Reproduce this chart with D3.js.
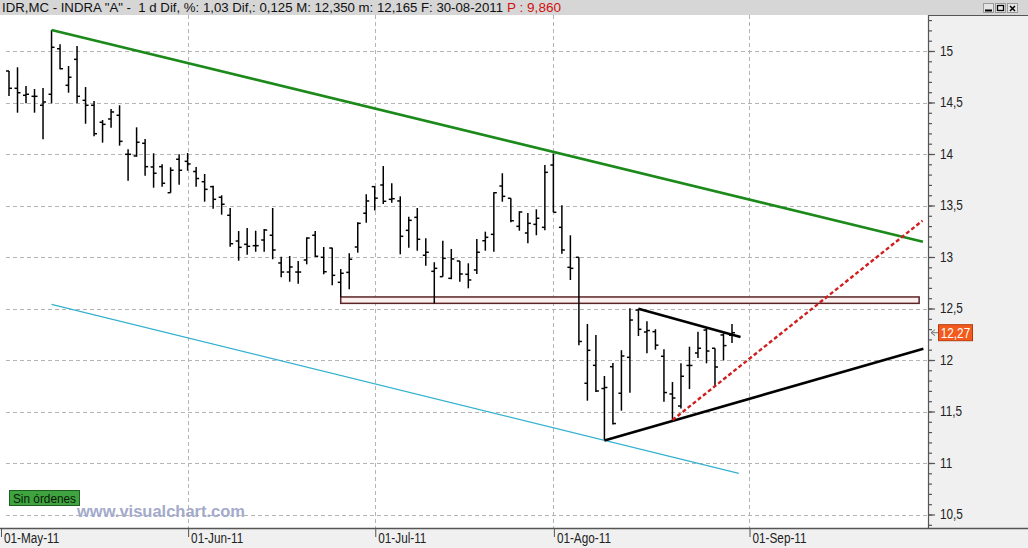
<!DOCTYPE html>
<html><head><meta charset="utf-8">
<script src="https://cdn.jsdelivr.net/npm/d3@7/dist/d3.min.js"></script>
<style>body{margin:0;background:#fff;overflow:hidden} svg{display:block} text.pre{white-space:pre}</style>
</head><body>
<svg id="c" width="1028" height="548"></svg>
<script>
// ---------- DATA (daily OHLC bars, INDRA, 03-May-2011 .. 30-Aug-2011) ----------
const open  = [14.806,14.638,14.570,14.560,14.473,14.580,15.022,14.667,14.919,14.521,
               14.473,14.308,14.340,14.376,13.997,13.981,14.104,13.874,13.877,13.624,
               13.949,13.929,13.830,13.731,13.683,13.580,13.405,13.155,13.123,13.110,
               13.165,13.211,12.942,12.854,12.854,12.971,13.211,12.997,13.087,12.754,
               12.851,13.097,13.425,13.683,13.699,13.560,13.544,13.259,13.385,13.017,
               12.861,12.809,12.793,12.961,12.832,12.874,13.158,13.220,13.689,13.570,
               13.298,13.233,13.317,13.288,13.893,13.288,12.900,12.997,11.774,11.948,
               11.723,11.935,11.677,12.026,12.485,12.272,12.275,12.036,11.670,11.553,
               11.947,12.068,12.291,12.114,12.243,12.240];
const high  = [14.806,14.842,14.660,14.631,14.641,15.204,15.065,14.854,15.049,14.650,
               14.515,14.330,14.437,14.473,14.046,14.259,14.146,14.007,13.900,13.871,
               13.997,14.010,13.874,13.806,13.692,13.599,13.476,13.252,13.282,13.255,
               13.272,13.476,13.003,13.010,12.961,13.191,13.252,13.097,13.090,12.883,
               13.036,13.337,13.610,13.687,13.883,13.716,13.589,13.391,13.476,13.182,
               12.949,13.158,13.078,12.961,12.939,13.175,13.246,13.628,13.813,13.570,
               13.444,13.427,13.463,13.893,14.005,13.502,13.211,12.997,12.350,12.243,
               11.845,11.971,12.095,12.502,12.498,12.376,12.299,12.104,11.786,11.968,
               12.129,12.274,12.311,12.114,12.259,12.350];
const low   = [14.563,14.401,14.492,14.401,14.143,14.492,14.822,14.595,14.492,14.294,
               14.172,14.110,14.255,14.081,13.741,13.974,13.789,13.673,13.683,13.624,
               13.702,13.838,13.683,13.537,13.469,13.411,13.100,12.964,13.022,13.051,
               13.051,12.978,12.803,12.760,12.741,12.929,13.000,12.832,12.725,12.612,
               12.686,13.042,13.333,13.451,13.515,13.527,13.026,13.090,13.061,12.916,
               12.550,12.809,12.784,12.760,12.696,12.835,13.061,13.051,13.537,13.337,
               13.255,13.133,13.211,13.259,13.434,13.032,12.777,12.143,11.605,11.689,
               11.218,11.374,11.508,11.683,12.233,12.065,12.100,11.595,11.417,11.529,
               11.718,12.019,11.968,11.743,11.997,12.165];
const close = [14.638,14.595,14.580,14.560,14.505,15.036,14.828,14.745,14.560,14.473,
               14.197,14.288,14.408,14.123,13.997,14.114,13.877,13.813,13.716,13.842,
               13.842,13.903,13.762,13.657,13.560,13.512,13.129,13.094,13.104,13.110,
               13.262,13.068,12.854,12.903,12.854,13.184,13.007,12.857,12.822,12.842,
               12.978,13.327,13.544,13.571,13.541,13.566,13.201,13.356,13.172,13.046,
               12.890,12.987,12.981,12.835,12.777,13.046,13.191,13.624,13.589,13.352,
               13.437,13.327,13.376,13.822,13.434,13.068,12.890,12.180,12.094,11.699,
               11.733,11.383,12.039,12.388,12.298,12.286,12.144,11.684,11.631,11.842,
               11.947,12.114,12.087,11.932,12.140,12.265];

const priceTicks  = [10.5, 11, 11.5, 12, 12.5, 13, 13.5, 14, 14.5, 15];
const monthTickIdx = [-1, 21, 43, 64, 87];
const monthLabels  = ["01-May-11", "01-Jun-11", "01-Jul-11", "01-Ago-11", "01-Sep-11"];

// drawn studies: [barIndex, price]
const lineGreen    = [[5, 15.204], [107.45, 13.149]];
const lineBlue     = [[5, 12.540], [85.8, 10.900]];
const lineRed      = [[78, 11.417], [107.4, 13.353]];
const lineBlackLow = [[70, 11.218], [107.5, 12.110]];
const lineBlackUp  = [[74, 12.498], [86.0, 12.223]];
const supportZone  = {x0: 39, x1: 107, top: 12.612, bottom: 12.550};

const headerText = 'IDR,MC - INDRA "A" -\u00a0 1 d Dif, %: 1,03 Dif,: 0,125 M: 12,350 m: 12,165 F: 30-08-2011';
const headerRed  = 'P : 9,860';
const lastLabel  = '12,27';

// ---------- LAYOUT ----------
const svg = d3.select("#c");
const W = 1028, H = 548, topY = 15, axisX = 928, axisY = 528;
const x = d3.scaleLinear().domain([0, 85]).range([9, 732]);
const y = d3.scaleLinear().domain([10.5, 15]).range([514.5, 51]);
const fmt = v => String(v).replace(".", ",");
const FONT = "'Liberation Sans', Arial, sans-serif";

// backgrounds
svg.append("rect").attr("x",0).attr("y",0).attr("width",W).attr("height",H).attr("fill","#fff");
svg.append("rect").attr("x",axisX).attr("y",topY).attr("width",W-axisX).attr("height",axisY-topY).attr("fill","#f0f0f0");
svg.append("rect").attr("x",0).attr("y",axisY).attr("width",W).attr("height",H-axisY).attr("fill","#f0f0f0");
svg.append("rect").attr("x",0).attr("y",0).attr("width",W).attr("height",topY).attr("fill","#d6d6d6");

// grid
const grid = svg.append("g").attr("stroke","#b4b4b4").attr("stroke-width",1).attr("stroke-dasharray","4,3");
grid.selectAll("line.h").data(priceTicks).join("line").attr("class","h")
  .attr("x1",6).attr("x2",axisX).attr("y1",d=>Math.round(y(d))+0.5).attr("y2",d=>Math.round(y(d))+0.5);
grid.selectAll("line.v").data(monthTickIdx.slice(1)).join("line").attr("class","v")
  .attr("x1",d=>Math.round(x(d))+0.5).attr("x2",d=>Math.round(x(d))+0.5).attr("y1",topY).attr("y2",axisY);

// support zone
svg.append("rect")
  .attr("x",x(supportZone.x0)).attr("y",y(supportZone.top))
  .attr("width",x(supportZone.x1)-x(supportZone.x0)).attr("height",y(supportZone.bottom)-y(supportZone.top))
  .attr("fill","#fcefef").attr("stroke","#5a2424").attr("stroke-width",1.5);

// bars
const barIdx = d3.range(open.length);
const bars = svg.append("g").attr("stroke","#000").attr("stroke-width",1.5);
bars.selectAll("line.hl").data(barIdx).join("line").attr("class","hl")
  .attr("x1",i=>x(i)).attr("x2",i=>x(i)).attr("y1",i=>y(high[i])).attr("y2",i=>y(low[i]));
bars.selectAll("line.o").data(barIdx).join("line").attr("class","o")
  .attr("x1",i=>x(i)-3).attr("x2",i=>x(i)).attr("y1",i=>y(open[i])).attr("y2",i=>y(open[i]));
bars.selectAll("line.c").data(barIdx).join("line").attr("class","c")
  .attr("x1",i=>x(i)).attr("x2",i=>x(i)+3).attr("y1",i=>y(close[i])).attr("y2",i=>y(close[i]));

// study lines
const lg = d3.line().x(d=>x(d[0])).y(d=>y(d[1]));
const addLine = (data, color, w, dash) => {
  const p = svg.append("path").attr("d", lg(data)).attr("fill","none")
    .attr("stroke",color).attr("stroke-width",w);
  if (dash) p.attr("stroke-dasharray", dash);
};
addLine(lineBlue, "#33b1cf", 1.2);
addLine(lineGreen, "#1b8a1b", 2.6);
addLine(lineBlackLow, "#000", 2.6);
addLine(lineBlackUp, "#000", 2.6);
addLine(lineRed, "#cf1f1f", 2.4, "4,2.5");

// right axis
const minor = d3.range(104, 154).map(v => v/10);
const rAx = svg.append("g").attr("transform",`translate(${axisX},0)`);
rAx.call(d3.axisRight(y).tickValues(minor).tickSize(4).tickFormat(""));
const rAx2 = svg.append("g").attr("transform",`translate(${axisX},0)`);
rAx2.call(d3.axisRight(y).tickValues(priceTicks).tickSize(7).tickPadding(5).tickFormat(fmt));
[rAx, rAx2].forEach(g => { g.select(".domain").remove(); g.selectAll("line").attr("stroke","#555").attr("stroke-width",1.2); });
rAx2.selectAll("text").attr("font-family",FONT).attr("font-size",14).attr("fill","#222").attr("class","narrow");
svg.append("line").attr("x1",axisX+0.5).attr("x2",axisX+0.5).attr("y1",topY).attr("y2",axisY).attr("stroke","#555").attr("stroke-width",1.2);
svg.append("line").attr("x1",axisX).attr("x2",W).attr("y1",topY+0.5).attr("y2",topY+0.5).attr("stroke","#555");

// bottom axis
const bAx = svg.append("g").attr("transform",`translate(0,${axisY})`);
bAx.call(d3.axisBottom(x).tickValues(monthTickIdx).tickSize(9).tickFormat((d,i)=>monthLabels[i]));
bAx.select(".domain").remove();
bAx.selectAll("line").attr("stroke","#555").attr("transform","translate(0.5,0)");
bAx.selectAll("text").attr("font-family",FONT).attr("font-size",14).attr("fill","#222")
  .attr("text-anchor","start").attr("dx",3).attr("y",5).attr("class","narrow");
svg.append("line").attr("x1",0).attr("x2",W).attr("y1",axisY+0.5).attr("y2",axisY+0.5).attr("stroke","#555").attr("stroke-width",1.5);

// last price marker
const yl = y(close[close.length-1]);
svg.append("path").attr("d",`M${axisX+3},${yl} l4,-3 M${axisX+3},${yl} l4,3 M${axisX+3},${yl} h7`)
  .attr("stroke","#777").attr("fill","none");
svg.append("rect").attr("x",938.5).attr("y",yl-8).attr("width",34).attr("height",16)
  .attr("fill","#f35a1c").attr("stroke","#b83a10");
svg.append("text").attr("x",955.5).attr("y",yl+5).attr("text-anchor","middle")
  .attr("font-family",FONT).attr("font-size",14).attr("fill","#fff").attr("class","narrow").text(lastLabel);

// header
svg.append("text").attr("class","pre").attr("x",2).attr("y",12).attr("font-family",FONT).attr("font-size",12.5)
  .attr("fill","#111").attr("textLength",501).attr("lengthAdjust","spacingAndGlyphs")
  .text(headerText);
svg.append("text").attr("x",507).attr("y",12).attr("font-family",FONT).attr("font-size",12.5)
  .attr("fill","#d01010").attr("textLength",54).attr("lengthAdjust","spacingAndGlyphs").text(headerRed);

// window buttons
const btn = svg.append("g");
[[983,"min"],[995,"max"],[1007,"close"]].forEach(([bx,t]) => {
  btn.append("rect").attr("x",bx+0.5).attr("y",3.5).attr("width",10).attr("height",9).attr("fill","#e4e4e4").attr("stroke","#999");
  if (t==="min") btn.append("line").attr("x1",bx+2).attr("x2",bx+9).attr("y1",10.5).attr("y2",10.5).attr("stroke","#000").attr("stroke-width",2);
  if (t==="max") btn.append("rect").attr("x",bx+2.5).attr("y",5.5).attr("width",6).attr("height",5).attr("fill","none").attr("stroke","#000").attr("stroke-width",1.3);
  if (t==="close") btn.append("path").attr("d",`M${bx+3},6 L${bx+8},11 M${bx+8},6 L${bx+3},11`).attr("stroke","#000").attr("stroke-width",1.5);
});

// "Sin órdenes" badge
svg.append("rect").attr("x",9.5).attr("y",490.5).attr("width",70).attr("height",15)
  .attr("fill","#3fa33f").attr("stroke","#1f5f1f");
svg.append("text").attr("x",13).attr("y",502.5).attr("font-family",FONT).attr("font-size",13)
  .attr("fill","#0a1a0a").attr("textLength",63).attr("lengthAdjust","spacingAndGlyphs").text("Sin órdenes");

// watermark
svg.append("text").attr("x",77).attr("y",517).attr("font-family",FONT).attr("font-weight","bold")
  .attr("font-size",16).attr("fill","#a4aacb").attr("textLength",168).attr("lengthAdjust","spacingAndGlyphs")
  .text("www.visualchart.com");

// condense the narrow bitmap-style axis font
svg.selectAll("text.narrow").each(function(){
  const n = this.getComputedTextLength();
  d3.select(this).attr("textLength", n*0.84).attr("lengthAdjust","spacingAndGlyphs");
});
</script>
</body></html>
